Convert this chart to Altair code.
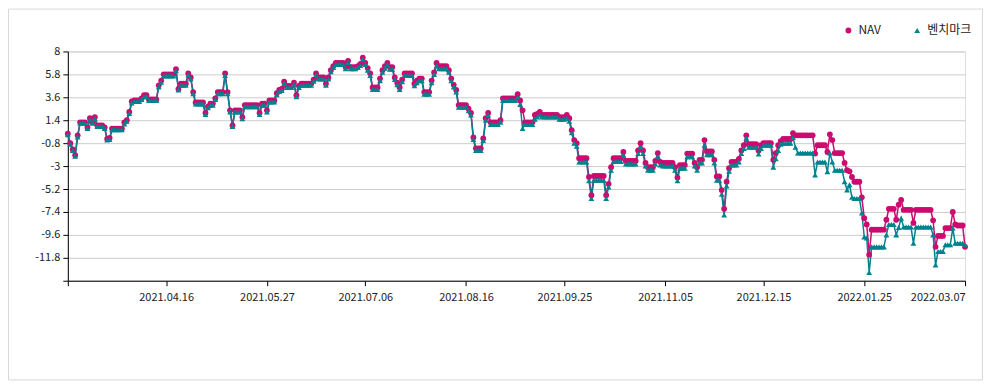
import altair as alt
import pandas as pd

START_DATE = "2021-03-07"
SERIES = ["NAV", "벤치마크"]
COLORS = ["#cc0a6f", "#00838f"]
SHAPES = ["circle", "triangle-up"]

# number of consecutive days each reading holds (flat steps over weekends/holidays)
RUN_DAYS = [
    1, 1, 1, 1, 1, 3, 1, 1, 1, 1,
    3, 1, 1, 1, 5, 1, 1, 1, 1, 3,
    1, 2, 4, 1, 1, 5, 1, 1, 3, 1,
    1, 1, 4, 1, 1, 2, 1, 3, 1, 1,
    1, 1, 3, 1, 6, 1, 2, 1, 3, 1,
    1, 1, 1, 3, 1, 1, 1, 5, 1, 1,
    3, 1, 1, 1, 1, 4, 1, 1, 3, 1,
    1, 1, 1, 1, 1, 3, 1, 1, 1, 1,
    2, 1, 1, 1, 1, 4, 1, 1, 2, 3,
    1, 1, 1, 4, 1, 1, 1, 1, 4, 1,
    1, 1, 3, 1, 1, 1, 4, 1, 6, 1,
    1, 1, 4, 1, 1, 1, 7, 3, 1, 1,
    1, 1, 1, 4, 1, 1, 5, 1, 1, 1,
    4, 1, 5, 1, 1, 1, 1, 3, 1, 1,
    1, 5, 1, 1, 3, 3, 1, 1, 2, 1,
    3, 1, 2, 1, 1, 1, 1, 3, 1, 1,
    1, 1, 4, 1, 1, 4, 1, 1, 1, 1,
    4, 1, 1, 7, 1, 4, 1, 1, 1, 4,
    1, 1, 1, 1, 3, 1, 1, 1, 1, 6,
    1, 3, 1, 1, 1, 4, 1, 7, 1, 1,
    3, 3, 1, 1, 3, 1,
]

NAV_VALUES = [
    0.1, -0.8, -1.4, -1.95, -0.05, 1.2, 0.7, 1.6, 1.2, 1.7,
    0.9, 0.7, -0.4, -0.3, 0.6, 1.2, 1.4, 2.2, 3.2, 3.3,
    3.5, 3.8, 3.4, 4.75, 5.2, 5.8, 6.3, 4.4, 4.9, 5.9,
    5.5, 4.1, 3.1, 2.1, 2.7, 3.0, 3.5, 4.1, 5.9, 4.1,
    2.35, 0.9, 2.35, 1.7, 2.85, 2.1, 3.0, 2.35, 3.3, 4.0,
    4.3, 4.4, 5.1, 4.7, 5.0, 3.8, 4.7, 4.9, 5.3, 5.9,
    5.5, 4.9, 5.5, 6.2, 6.6, 6.9, 6.5, 7.1, 6.5, 6.6,
    6.8, 7.4, 6.9, 6.4, 5.9, 4.55, 5.4, 6.2, 6.6, 6.9,
    6.5, 5.5, 5.0, 4.55, 5.3, 5.9, 4.9, 5.2, 5.4, 4.1,
    5.2, 6.0, 6.9, 6.6, 6.2, 5.4, 4.8, 4.3, 2.85, 2.5,
    2.1, -0.25, -1.3, -0.35, 1.6, 2.1, 1.2, 1.4, 3.5, 3.9,
    3.3, 2.35, 1.2, 1.9, 2.0, 2.2, 1.9, 1.7, 1.9, 1.6,
    0.45, -0.5, -0.8, -2.25, -4.05, -5.8, -3.95, -5.8, -4.7, -3.1,
    -2.25, -1.65, -2.5, -1.5, -0.8, -1.5, -2.7, -3.1, -2.5, -1.75,
    -2.6, -2.7, -3.1, -4.1, -2.9, -1.8, -2.7, -3.1, -2.4, -0.5,
    -1.6, -2.4, -4.0, -5.3, -7.1, -4.5, -3.2, -2.6, -2.3, -1.5,
    -1.0, -0.05, -0.9, -1.5, -1.0, -0.8, -2.4, -1.75, -1.0, -0.6,
    -0.4, 0.15, -0.05, -0.05, -1.8, -1.0, -1.65, 0.05, -0.5, -1.75,
    -2.7, -3.4, -3.5, -4.05, -4.5, -6.0, -8.0, -8.6, -11.5, -9.1,
    -8.15, -7.1, -8.15, -6.7, -6.25, -7.2, -8.45, -7.2, -8.2, -10.75,
    -9.7, -8.95, -7.4, -8.6, -8.7, -10.75,
]

BENCH_VALUES = [
    0.0, -0.9, -1.5, -2.05, -0.2, 1.1, 0.6, 1.45, 1.1, 1.55,
    0.8, 0.6, -0.5, -0.45, 0.5, 1.05, 1.3, 2.05, 3.05, 3.2,
    3.4, 3.65, 3.3, 4.6, 5.05, 5.65, 6.15, 4.3, 4.75, 5.75,
    5.35, 3.95, 2.95, 1.95, 2.6, 2.85, 3.4, 3.95, 5.7, 3.95,
    2.2, 0.8, 2.2, 1.55, 2.7, 1.95, 2.85, 2.2, 3.15, 3.85,
    4.15, 4.25, 4.95, 4.55, 4.85, 3.65, 4.55, 4.75, 5.15, 5.75,
    5.35, 4.75, 5.35, 6.05, 6.45, 6.75, 6.35, 6.95, 6.35, 6.45,
    6.65, 7.25, 6.75, 6.2, 5.7, 4.35, 5.2, 6.0, 6.4, 6.7,
    6.3, 5.3, 4.8, 4.35, 5.1, 5.7, 4.7, 5.0, 5.2, 3.9,
    5.0, 5.8, 6.6, 6.35, 6.0, 5.2, 4.6, 4.1, 2.65, 2.3,
    1.9, -0.45, -1.5, -0.55, 1.4, 1.9, 1.0, 1.2, 3.3, 3.6,
    2.9, 0.6, 1.0, 1.5, 1.7, 1.9, 1.7, 1.5, 1.6, 1.3,
    0.2, -0.8, -1.1, -2.6, -4.4, -6.1, -4.35, -6.1, -5.0, -3.4,
    -2.55, -1.95, -2.8, -1.8, -1.2, -1.8, -3.0, -3.4, -2.8, -2.05,
    -2.9, -3.0, -3.4, -4.4, -3.2, -2.1, -3.0, -3.4, -2.7, -1.0,
    -1.9, -2.7, -4.35, -5.7, -7.7, -4.9, -3.5, -2.9, -2.6, -1.8,
    -1.3, -0.3, -1.2, -1.85, -1.3, -1.0, -3.1, -2.3, -1.5, -0.9,
    -0.8, -0.25, -1.2, -1.75, -3.85, -2.6, -3.55, -1.75, -2.6, -3.4,
    -4.5, -5.3, -4.8, -6.0, -6.1, -7.5, -9.8, -9.9, -13.2, -10.75,
    -9.6, -8.6, -9.6, -8.9, -8.0, -8.85, -10.4, -8.85, -9.6, -12.5,
    -11.2, -10.55, -8.95, -10.4, -10.4, -10.55,
]

X_TICK_DATES = ["2021-03-07", "2021-04-16", "2021-05-27", "2021-07-06", "2021-08-16",
                "2021-09-25", "2021-11-05", "2021-12-15", "2022-01-25", "2022-03-07"]
Y_TICKS = [8, 5.8, 3.6, 1.4, -0.8, -3, -5.2, -7.4, -9.6, -11.8, -14]
Y_DOMAIN = [-14, 8]

# ---- build long table ----
n_days = sum(RUN_DAYS)
dates = pd.date_range(START_DATE, periods=n_days, freq="D").strftime("%Y-%m-%d").tolist()
nav_daily, bench_daily = [], []
for n, a, b in zip(RUN_DAYS, NAV_VALUES, BENCH_VALUES):
    nav_daily += [a] * n
    bench_daily += [b] * n

df = pd.DataFrame({
    "date": dates + dates,
    "value": nav_daily + bench_daily,
    "series": [SERIES[0]] * n_days + [SERIES[1]] * n_days,
})


def ms(d):
    return int(pd.Timestamp(d, tz="UTC").timestamp() * 1000)


tick_ms = [ms(d) for d in X_TICK_DATES]
x_domain = [ms(dates[0]), ms(dates[-1])]

FONT = "Noto Sans CJK KR"

x_enc = alt.X(
    "date:T",
    scale=alt.Scale(type="utc", domain=x_domain),
    axis=alt.Axis(
        title=None, values=tick_ms,
        labelExpr=f"datum.value < {tick_ms[1] - 1000} ? '' : utcFormat(datum.value, '%Y.%m.%d')",
        grid=False, domainColor="#000000", tickColor="#000000", tickSize=5,
        labelFontSize=11, labelColor="#222222", labelPadding=6, labelFont=FONT,
        labelOverlap=False, labelFlush=True,
    ),
)
y_enc = alt.Y(
    "value:Q",
    scale=alt.Scale(domain=Y_DOMAIN, nice=False, zero=False),
    axis=alt.Axis(
        title=None, values=Y_TICKS,
        labelExpr="datum.value < -13 ? '' : toString(datum.value)",
        grid=True, gridColor="#cccccc", gridWidth=1,
        domainColor="#000000", tickColor="#000000", tickSize=5,
        labelFontSize=11, labelColor="#222222", labelPadding=3, labelFont=FONT,
    ),
)

legend = alt.Legend(
    title=None, orient="none", direction="horizontal", legendX=777, legendY=-27,
    labelFontSize=12, labelColor="#222222", labelFont=FONT, symbolSize=34,
    columnPadding=30, labelOffset=4,
)

base = alt.Chart(df)
line_layers = [
    base.transform_filter(alt.datum.series == s).mark_line(strokeWidth=1.5, color=c).encode(
        x=x_enc, y=y_enc
    )
    for s, c in zip(SERIES, COLORS)
]
points = base.mark_point(filled=True, size=34, opacity=1).encode(
    x=x_enc, y=y_enc,
    color=alt.Color("series:N", scale=alt.Scale(domain=SERIES, range=COLORS), legend=legend),
    shape=alt.Shape("series:N", scale=alt.Scale(domain=SERIES, range=SHAPES), legend=legend),
)

frame = alt.Chart(alt.Data(values=[{"f": 1}])).mark_rect(
    fillOpacity=0, stroke="#d9d9d9", strokeWidth=1
).encode(
    x=alt.value(-59.5), x2=alt.value(917.5), y=alt.value(-42.5), y2=alt.value(329.5)
)

chart = alt.layer(frame, *line_layers, points).properties(
    width=900, height=230,
    padding={"left": 60, "top": 43, "right": 18, "bottom": 100},
    autosize=alt.AutoSizeParams(type="none"),
).configure_view(stroke=None).configure(font=FONT)

chart.save("out.html", embed_options={"renderer": "svg", "actions": False})
